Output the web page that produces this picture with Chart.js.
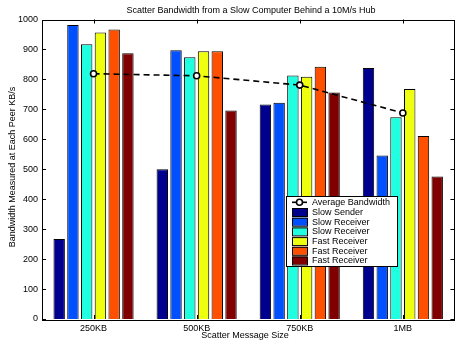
<!DOCTYPE html>
<html>
<head>
<meta charset="utf-8">
<script src="https://cdn.jsdelivr.net/npm/chart.js@4/dist/chart.umd.min.js"></script>
<style>
  html, body { margin: 0; padding: 0; background: #fff; overflow: hidden; }
  #wrap { width: 460px; height: 342px; }
</style>
</head>
<body>
<div id="wrap"><canvas id="c" width="460" height="342"></canvas></div>
<script>
// Scatter bandwidth per peer, grouped by message size
const categories = ['250KB', '500KB', '750KB', '1MB'];
const seriesNames = ['Slow Sender', 'Slow Receiver', 'Slow Receiver', 'Fast Receiver', 'Fast Receiver', 'Fast Receiver'];
const slowSender    = [267, 500, 716, 838];
const slowReceiverA = [982, 897, 722, 546];
const slowReceiverB = [917, 874, 813, 674];
const fastReceiverA = [957, 894, 809, 768];
const fastReceiverB = [967, 894, 842, 611];
const fastReceiverC = [887, 696, 756, 476];
const averageBandwidth = [819, 812, 781, 688];
const yTicks = [0, 100, 200, 300, 400, 500, 600, 700, 800, 900, 1000];

const barColors = ['#00008f', '#0050ff', '#20ffdf', '#efff10', '#ff5000', '#800000'];
const barSeries = [slowSender, slowReceiverA, slowReceiverB, fastReceiverA, fastReceiverB, fastReceiverC];

const FONT = '"Liberation Sans", Arial, Helvetica, sans-serif';

const datasets = [{
  type: 'line',
  label: 'Average Bandwidth',
  data: averageBandwidth,
  borderColor: '#000',
  borderWidth: 1.6,
  borderDash: [6, 4],
  pointRadius: 3,
  pointBorderWidth: 1.6,
  pointBorderColor: '#000',
  pointBackgroundColor: '#fff',
  fill: false,
  tension: 0,
  order: 0
}];
barSeries.forEach((vals, i) => {
  datasets.push({
    type: 'bar',
    label: seriesNames[i],
    data: vals,
    backgroundColor: barColors[i],
    borderColor: '#000',
    borderWidth: 1,
    categoryPercentage: 0.8,
    barPercentage: 0.83,
    order: 1
  });
});

// Frame, inward ticks, titles and the boxed legend
const decor = {
  id: 'decor',
  afterDraw(chart) {
    const ctx = chart.ctx;
    const a = chart.chartArea;
    const xs = chart.scales.x, ys = chart.scales.y;
    ctx.save();
    ctx.strokeStyle = '#000';
    ctx.lineWidth = 1;
    // box
    ctx.strokeRect(Math.round(a.left) + 0.5, Math.round(a.top) + 0.5,
                   Math.round(a.right - a.left), Math.round(a.bottom - a.top));
    // y ticks on both sides
    ctx.beginPath();
    yTicks.forEach(v => {
      const y = Math.round(ys.getPixelForValue(v)) + 0.5;
      ctx.moveTo(a.left, y); ctx.lineTo(a.left + 4, y);
      ctx.moveTo(a.right - 4, y); ctx.lineTo(a.right, y);
    });
    // x ticks top and bottom
    categories.forEach((c, i) => {
      const x = Math.round(xs.getPixelForValue(i)) + 0.5;
      ctx.moveTo(x, a.top); ctx.lineTo(x, a.top + 4);
      ctx.moveTo(x, a.bottom); ctx.lineTo(x, a.bottom - 4);
    });
    ctx.stroke();

    // titles
    ctx.fillStyle = '#000';
    ctx.font = '9px ' + FONT;
    ctx.textAlign = 'center';
    ctx.textBaseline = 'alphabetic';
    ctx.fillText('Scatter Bandwidth from a Slow Computer Behind a 10M/s Hub', 251, 13);
    ctx.fillText('Scatter Message Size', 245, 338);
    ctx.save();
    ctx.translate(15, 167);
    ctx.rotate(-Math.PI / 2);
    ctx.fillText('Bandwidth Measured at Each Peer KB/s', 0, 0);
    ctx.restore();

    // legend
    const lx = 286, ly = 196, lw = 111, lh = 70;
    ctx.fillStyle = '#fff';
    ctx.fillRect(lx, ly, lw, lh);
    ctx.strokeRect(lx + 0.5, ly + 0.5, lw, lh);
    const rowH = 9.7;
    const y0 = ly + 6.3;
    chart.data.datasets.forEach((ds, i) => {
      const cy = y0 + i * rowH;
      if (ds.type === 'line') {
        ctx.beginPath();
        ctx.lineWidth = 1.6;
        ctx.moveTo(292, cy); ctx.lineTo(307, cy);
        ctx.stroke();
        ctx.beginPath();
        ctx.arc(299.5, cy, 3, 0, Math.PI * 2);
        ctx.fillStyle = '#fff';
        ctx.fill();
        ctx.stroke();
        ctx.lineWidth = 1;
      } else {
        ctx.fillStyle = ds.backgroundColor;
        ctx.fillRect(292, cy - 4, 15, 8);
        ctx.strokeRect(292.5, cy - 3.5, 15, 8);
      }
      ctx.fillStyle = '#000';
      ctx.textAlign = 'left';
      ctx.textBaseline = 'middle';
      ctx.fillText(ds.label, 312, cy + 0.5);
    });
    ctx.restore();
  }
};

new Chart(document.getElementById('c'), {
  type: 'bar',
  data: { labels: categories, datasets: datasets },
  options: {
    responsive: false,
    animation: false,
    devicePixelRatio: 1,
    layout: { padding: { left: 0, top: 19.5, right: 3, bottom: 0 } },
    plugins: { legend: { display: false }, title: { display: false }, tooltip: { enabled: false } },
    scales: {
      x: {
        type: 'category',
        offset: true,
        grid: { display: false, drawTicks: false },
        border: { display: false },
        ticks: { color: '#000', font: { family: FONT, size: 9 }, padding: 4, maxRotation: 0 },
        afterFit: s => { s.height = 23; }
      },
      y: {
        min: 0, max: 1000,
        grid: { display: false, drawTicks: false },
        border: { display: false },
        afterBuildTicks: s => { s.ticks = yTicks.map(v => ({ value: v })); },
        ticks: { color: '#000', font: { family: FONT, size: 9 }, padding: 4, callback: v => String(v) },
        afterFit: s => { s.width = 42; }
      }
    }
  },
  plugins: [decor]
});
</script>
</body>
</html>
